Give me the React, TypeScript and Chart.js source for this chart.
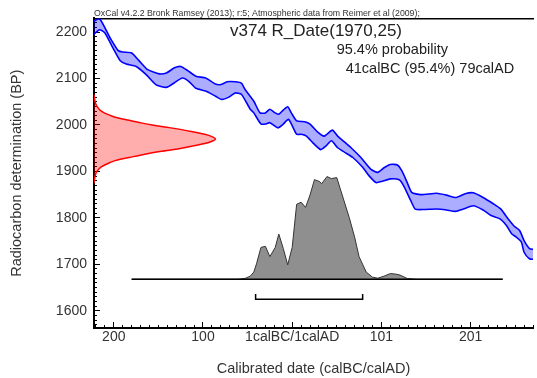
import React, { useEffect, useRef } from 'react';
import { Chart, registerables } from 'chart.js';

Chart.register(...registerables);

const FONT = '"Liberation Sans", Arial, Helvetica, sans-serif';

// Calendar axis: value 1 = boundary 1calBC/1calAD
const xMajorTicks = [-199, -99, 1, 101, 201];
const xMajorLabels = ['200', '100', '1calBC/1calAD', '101', '201'];
const yMajorTicks = [1600, 1700, 1800, 1900, 2000, 2100, 2200];

// Calibration curve (IntCal09 band), upper and lower edges
const curveUpperYears = [-222, -215, -203, -194, -189, -179, -170, -161, -148, -140, -131, -124, -116, -107, -96, -85, -79, -72, -63, -56, -52, -42, -35, -29, -24, -18, -14, -9, -4, 0, 6, 15, 21, 30, 37, 46, 52, 58, 67, 78, 89, 97, 104, 111, 119, 124, 130, 135, 145, 163, 174, 185, 195, 204, 215, 226, 235, 243, 250, 256, 261, 267, 272];
const curveUpperBP = [2223, 2229, 2187, 2160, 2157, 2155, 2137, 2119, 2110, 2112, 2123, 2126, 2117, 2105, 2101, 2088, 2087, 2093, 2093, 2090, 2077, 2051, 2026, 2026, 2034, 2026, 2023, 2032, 2039, 2026, 2009, 2007, 2002, 1984, 1976, 1989, 1976, 1966, 1951, 1930, 1905, 1898, 1908, 1915, 1914, 1901, 1876, 1855, 1850, 1853, 1849, 1844, 1852, 1854, 1844, 1831, 1819, 1798, 1782, 1773, 1751, 1734, 1732];
const curveLowerYears = [-222, -215, -209, -200, -192, -185, -174, -163, -152, -140, -131, -122, -115, -107, -96, -85, -78, -70, -63, -56, -46, -42, -34, -29, -24, -15, -9, -3, 6, 11, 17, 24, 33, 39, 45, 52, 60, 69, 80, 87, 95, 102, 111, 121, 126, 134, 139, 148, 163, 174, 184, 193, 204, 215, 224, 234, 241, 247, 252, 258, 261, 267, 272];
const curveLowerBP = [2194, 2205, 2198, 2166, 2139, 2131, 2126, 2109, 2087, 2081, 2091, 2101, 2094, 2079, 2073, 2062, 2055, 2060, 2069, 2066, 2034, 2026, 2002, 2002, 2005, 1994, 2002, 2012, 1980, 1980, 1976, 1962, 1947, 1955, 1966, 1951, 1941, 1930, 1909, 1891, 1876, 1879, 1884, 1882, 1869, 1837, 1819, 1818, 1819, 1817, 1814, 1819, 1826, 1817, 1805, 1798, 1784, 1766, 1759, 1748, 1726, 1712, 1711];

// Radiocarbon measurement R_Date(1970,25): relative density
const rDateBP = [2066, 2060, 2050, 2040, 2030, 2020, 2015, 2010, 2005, 2000, 1995, 1990, 1985, 1980, 1975, 1970, 1965, 1960, 1955, 1950, 1945, 1940, 1935, 1930, 1925, 1920, 1910, 1900, 1890, 1880, 1874];
const rDateDensity = [0, 0.003, 0.009, 0.024, 0.06, 0.14, 0.2, 0.29, 0.38, 0.48, 0.6, 0.72, 0.82, 0.91, 0.97, 1.0, 0.97, 0.91, 0.82, 0.72, 0.6, 0.48, 0.38, 0.29, 0.2, 0.14, 0.06, 0.024, 0.009, 0.003, 0];

// Calibrated (posterior) distribution: relative probability
const postYears = [-179, -60, -52, -46, -42, -39, -34, -29, -24, -18, -14, -9, -4, 1, 6, 11, 16, 21, 26, 32, 34, 40, 45, 51, 56, 65, 71, 76, 84, 91, 97, 104, 111, 117, 122, 130, 140, 237];
const postProb = [0, 0, 0.007, 0.03, 0.07, 0.15, 0.31, 0.32, 0.22, 0.31, 0.44, 0.30, 0.14, 0.31, 0.73, 0.75, 0.70, 0.82, 0.97, 0.95, 0.93, 1.0, 0.98, 0.99, 0.85, 0.60, 0.41, 0.22, 0.07, 0.02, 0.01, 0.03, 0.055, 0.05, 0.04, 0.007, 0, 0];

const postRange = [-179, 237];
const range95 = [-40, 80]; // 41calBC .. 79calAD

// Layout constants
const X_MIN = -221.2;
const X_MAX = 271;
const Y_MIN = 1563;
const Y_MAX = 2229.4;
const R_SPAN = 136.3;
const POST_BASE = 1668;
const POST_HEIGHT = 221;
const BRACKET_Y = 1625;
const BRACKET_TICK = 11;

const xMinorTicks: number[] = [];
for (let v = -219; v <= 271; v += 10) xMinorTicks.push(v);
const yMinorTicks: number[] = [];
for (let v = 1570; v <= 2220; v += 10) yMinorTicks.push(v);

export default function App() {
  const ref = useRef<HTMLCanvasElement>(null);

  useEffect(() => {
    const canvas = ref.current!;
    const upper = curveUpperYears.map((x, i) => ({ x, y: curveUpperBP[i] }));
    const lower = curveLowerYears.map((x, i) => ({ x, y: curveLowerBP[i] }));
    const bandPoly = [...upper, ...lower.slice().reverse()];
    const rDate = rDateBP.map((bp, i) => ({ x: X_MIN + rDateDensity[i] * R_SPAN, y: bp }));
    const post = postYears.map((x, i) => ({ x, y: POST_BASE + postProb[i] * POST_HEIGHT }));
    const base = postRange.map((x) => ({ x, y: POST_BASE }));
    const bracket = [
      { x: range95[0], y: BRACKET_Y + BRACKET_TICK },
      { x: range95[0], y: BRACKET_Y },
      { x: range95[1], y: BRACKET_Y },
      { x: range95[1], y: BRACKET_Y + BRACKET_TICK },
    ];
    const common = { xAxisID: 'x', yAxisID: 'y', pointRadius: 0, pointHoverRadius: 0 };

    const chart = new Chart(canvas, {
      type: 'line',
      data: {
        datasets: [
          { ...common, data: rDate, borderColor: '#ff0000', borderWidth: 1.5, backgroundColor: 'rgba(255,0,0,0.32)', fill: 'shape', tension: 0.4, order: 1 },
          { ...common, data: upper, borderColor: '#0000ff', borderWidth: 1.6, fill: false, tension: 0.2, order: 2 },
          { ...common, data: lower, borderColor: '#0000ff', borderWidth: 1.6, fill: false, tension: 0.2, order: 2 },
          { ...common, data: bandPoly, borderWidth: 0, borderColor: 'rgba(0,0,0,0)', backgroundColor: 'rgba(0,0,255,0.32)', fill: 'shape', tension: 0.2, order: 3 },
          { ...common, data: base, borderColor: '#000', borderWidth: 1.5, fill: false, tension: 0, order: 1 },
          { ...common, data: post, borderColor: '#333', borderWidth: 1, backgroundColor: 'rgba(0,0,0,0.44)', fill: { value: POST_BASE }, tension: 0, order: 2 },
          { ...common, data: bracket, borderColor: '#000', borderWidth: 1.5, fill: false, tension: 0, order: 1 },
        ],
      },
      options: {
        animation: false,
        responsive: false,
        events: [],
        layout: { padding: 0 },
        plugins: {
          legend: { display: false },
          tooltip: { enabled: false },
          title: {
            display: true,
            text: 'OxCal v4.2.2 Bronk Ramsey (2013); r:5; Atmospheric data from Reimer et al (2009);',
            align: 'start',
            fullSize: false,
            color: '#333',
            font: { family: FONT, size: 8.75, weight: 'normal', lineHeight: 1 },
            padding: { top: 8.25, bottom: 0 },
          },
        },
        scales: {
          x: {
            type: 'linear',
            position: 'bottom',
            weight: 10,
            min: X_MIN,
            max: X_MAX,
            afterBuildTicks: (s: any) => { s.ticks = xMinorTicks.map((value) => ({ value })); },
            afterFit: (s: any) => { s.height = 50; },
            grid: { display: true, drawOnChartArea: false, drawTicks: true, tickLength: -3, tickColor: '#000', tickWidth: 1 },
            border: { display: true, color: '#000', width: 2 },
            ticks: {
              autoSkip: false,
              maxRotation: 0,
              minRotation: 0,
              padding: 4,
              color: '#333',
              font: { family: FONT, size: 14 },
              callback: (v: any) => {
                const i = xMajorTicks.indexOf(Number(v));
                return i >= 0 ? xMajorLabels[i] : '';
              },
            },
            title: { display: true, text: 'Calibrated date (calBC/calAD)', color: '#333', font: { family: FONT, size: 14.5 }, padding: { top: 0, bottom: 0.5 } },
          },
          xMajor: {
            type: 'linear',
            position: 'bottom',
            weight: 0,
            min: X_MIN,
            max: X_MAX,
            afterBuildTicks: (s: any) => { s.ticks = xMajorTicks.map((value) => ({ value })); },
            afterFit: (s: any) => { s.height = 0; },
            grid: { display: true, drawOnChartArea: false, drawTicks: true, tickLength: -6, tickColor: '#000', tickWidth: 1 },
            border: { display: false },
            ticks: { display: false, autoSkip: false },
          },
          xTop: {
            type: 'linear',
            position: 'top',
            weight: 0,
            min: X_MIN,
            max: X_MAX,
            afterFit: (s: any) => { s.height = 0; },
            grid: { display: false, drawTicks: false },
            border: { display: true, color: '#000', width: 1.5 },
            ticks: { display: false },
          },
          y: {
            type: 'linear',
            position: 'left',
            weight: 10,
            min: Y_MIN,
            max: Y_MAX,
            afterBuildTicks: (s: any) => { s.ticks = yMinorTicks.map((value) => ({ value })); },
            afterFit: (s: any) => { s.width = 94; },
            grid: { display: true, drawOnChartArea: false, drawTicks: true, tickLength: -3, tickColor: '#000', tickWidth: 1 },
            border: { display: true, color: '#000', width: 2 },
            ticks: {
              autoSkip: false,
              padding: 10,
              color: '#333',
              font: { family: FONT, size: 14 },
              callback: (v: any) => (yMajorTicks.indexOf(Number(v)) >= 0 ? String(v) : ''),
            },
            title: { display: true, text: 'Radiocarbon determination (BP)', color: '#333', font: { family: FONT, size: 14.5 }, padding: { top: 8, bottom: 0 } },
          },
          yMajor: {
            type: 'linear',
            position: 'left',
            weight: 0,
            min: Y_MIN,
            max: Y_MAX,
            afterBuildTicks: (s: any) => { s.ticks = yMajorTicks.map((value) => ({ value })); },
            afterFit: (s: any) => { s.width = 0; },
            grid: { display: true, drawOnChartArea: false, drawTicks: true, tickLength: -6, tickColor: '#000', tickWidth: 1 },
            border: { display: false },
            ticks: { display: false, autoSkip: false },
          },
        },
      } as any,
    });
    return () => chart.destroy();
  }, []);

  const text: React.CSSProperties = { position: 'absolute', whiteSpace: 'nowrap', fontFamily: FONT, color: '#222', lineHeight: 1 };

  return (
    <div style={{ position: 'absolute', left: 0, top: 0, width: 537, height: 378, background: '#fff' }}>
      <canvas ref={ref} width={537} height={378} style={{ display: 'block', width: 537, height: 378 }} />
      <div style={{ ...text, left: 230, top: 22.3, fontSize: 17 }}>v374 R_Date(1970,25)</div>
      <div style={{ ...text, left: 336.7, top: 42, fontSize: 14.5 }}>95.4% probability</div>
      <div style={{ ...text, left: 345.7, top: 61, fontSize: 14.5 }}>41calBC (95.4%) 79calAD</div>
    </div>
  );
}
